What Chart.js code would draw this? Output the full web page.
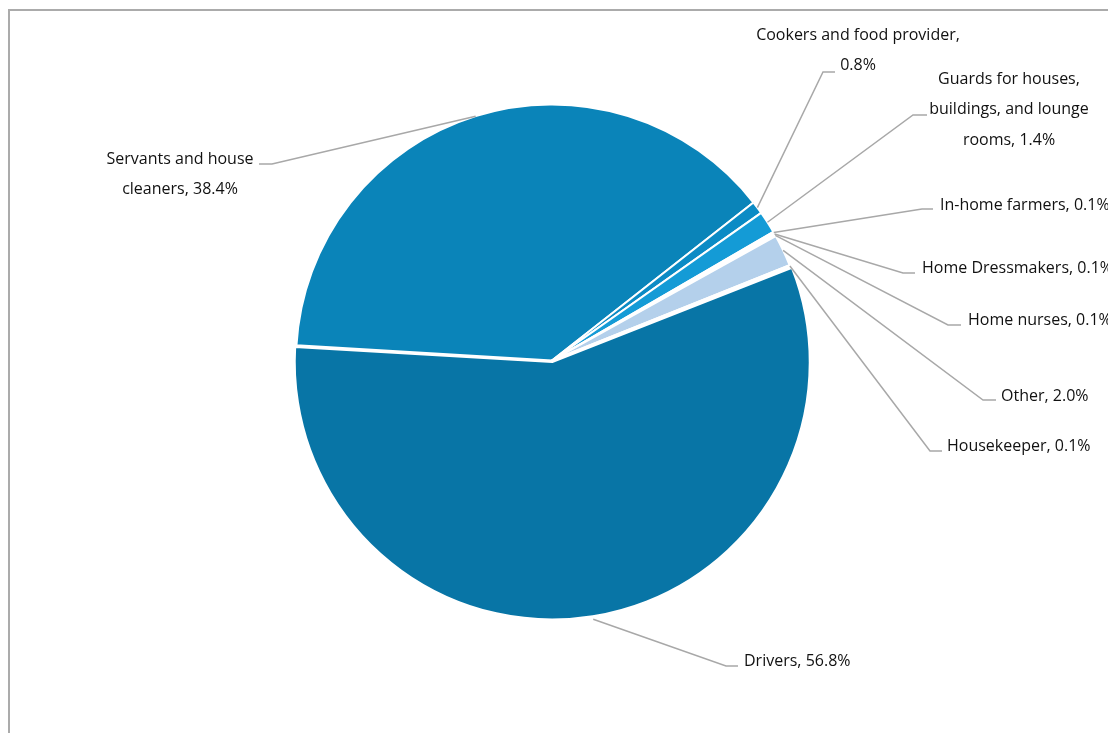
<!DOCTYPE html>
<html>
<head>
<meta charset="utf-8">
<script src="https://cdn.jsdelivr.net/npm/chart.js@4/dist/chart.umd.min.js"></script>
<style>
  html, body { margin: 0; padding: 0; background: #fff; }
  #wrap { position: relative; width: 1108px; height: 733px; }
</style>
</head>
<body>
<div id="wrap"><canvas id="c" width="1108" height="733"></canvas></div>
<script>
// ---- data ----
const categories = [
  "Drivers",
  "Servants and house cleaners",
  "Cookers and food provider",
  "Guards for houses, buildings, and lounge rooms",
  "In-home farmers",
  "Home Dressmakers",
  "Home nurses",
  "Other",
  "Housekeeper"
];
const values = [56.8, 38.4, 0.8, 1.4, 0.1, 0.1, 0.1, 2.0, 0.1];
const sliceColors = ["#0875a6", "#0a84b9", "#0b8bc5", "#149bd6", "#ffffff", "#ffffff", "#ffffff", "#b4d0eb", "#cfe1f3"];
const sliceOffsets = [6, 0, 0, 0, 0, 0, 0, 0, 0];

// label layout (text lines, positions) – styling only
const labelLayout = [
  { lines: ["Drivers, 56.8%"], align: "left", tx: 744, ty: 661, ex: 726, ey: 666, hx: 738 },
  { lines: ["Servants and house", "cleaners, 38.4%"], align: "center", tx: 180, ty: 159, ex: 272, ey: 164, hx: 259 },
  { lines: ["Cookers and food provider,", "0.8%"], align: "center", tx: 858, ty: 35, ex: 823, ey: 72, hx: 835 },
  { lines: ["Guards for houses,", "buildings, and lounge", "rooms, 1.4%"], align: "center", tx: 1009, ty: 79, ex: 913, ey: 115, hx: 927 },
  { lines: ["In-home farmers, 0.1%"], align: "left", tx: 940, ty: 205, ex: 922, ey: 209, hx: 933 },
  { lines: ["Home Dressmakers, 0.1%"], align: "left", tx: 922, ty: 268, ex: 903, ey: 273, hx: 915 },
  { lines: ["Home nurses, 0.1%"], align: "left", tx: 968, ty: 320, ex: 948, ey: 325, hx: 961 },
  { lines: ["Other, 2.0%"], align: "left", tx: 1001, ty: 396, ex: 983, ey: 400, hx: 996 },
  { lines: ["Housekeeper, 0.1%"], align: "left", tx: 947, ty: 446, ex: 930, ey: 451, hx: 942 }
];

const framePlugin = {
  id: 'frame',
  beforeDraw(chart) {
    const ctx = chart.ctx;
    ctx.save();
    ctx.fillStyle = '#ffffff';
    ctx.fillRect(0, 0, chart.width, chart.height);
    ctx.fillStyle = '#ababab';
    ctx.fillRect(8, 9, 2, chart.height - 9);
    ctx.fillRect(8, 9, chart.width - 8, 2);
    ctx.restore();
  }
};

const leaderPlugin = {
  id: 'leaders',
  afterDraw(chart) {
    const ctx = chart.ctx;
    const meta = chart.getDatasetMeta(0);
    ctx.save();
    labelLayout.forEach((L, i) => {
      const arc = meta.data[i];
      if (!arc) return;
      const p = arc.getProps(['x', 'y', 'startAngle', 'endAngle', 'outerRadius'], true);
      const mid = (p.startAngle + p.endAngle) / 2;
      const off = sliceOffsets[i] || 0;
      const r = p.outerRadius + off;
      const ax = p.x + Math.cos(mid) * r;
      const ay = p.y + Math.sin(mid) * r;
      ctx.strokeStyle = '#a8a8a8';
      ctx.lineWidth = 1.5;
      ctx.beginPath();
      ctx.moveTo(ax, ay);
      ctx.lineTo(L.ex, L.ey);
      ctx.lineTo(L.hx, L.ey);
      ctx.stroke();
      ctx.fillStyle = '#111111';
      ctx.font = '16px "Open Sans", "Noto Sans", sans-serif';
      ctx.textBaseline = 'middle';
      ctx.textAlign = L.align;
      L.lines.forEach((t, k) => ctx.fillText(t, L.tx, L.ty + k * 30.5));
    });
    ctx.restore();
  }
};

new Chart(document.getElementById('c'), {
  type: 'pie',
  data: {
    labels: categories,
    datasets: [{
      data: values,
      backgroundColor: sliceColors,
      borderColor: '#ffffff',
      borderWidth: 2,
      offset: sliceOffsets
    }]
  },
  options: {
    responsive: false,
    animation: false,
    rotation: 68.5,
    radius: 256,
    layout: { padding: { left: 100, right: 104, top: 40, bottom: 52 } },
    plugins: {
      legend: { display: false },
      tooltip: { enabled: false }
    }
  },
  plugins: [framePlugin, leaderPlugin]
});
</script>
</body>
</html>
